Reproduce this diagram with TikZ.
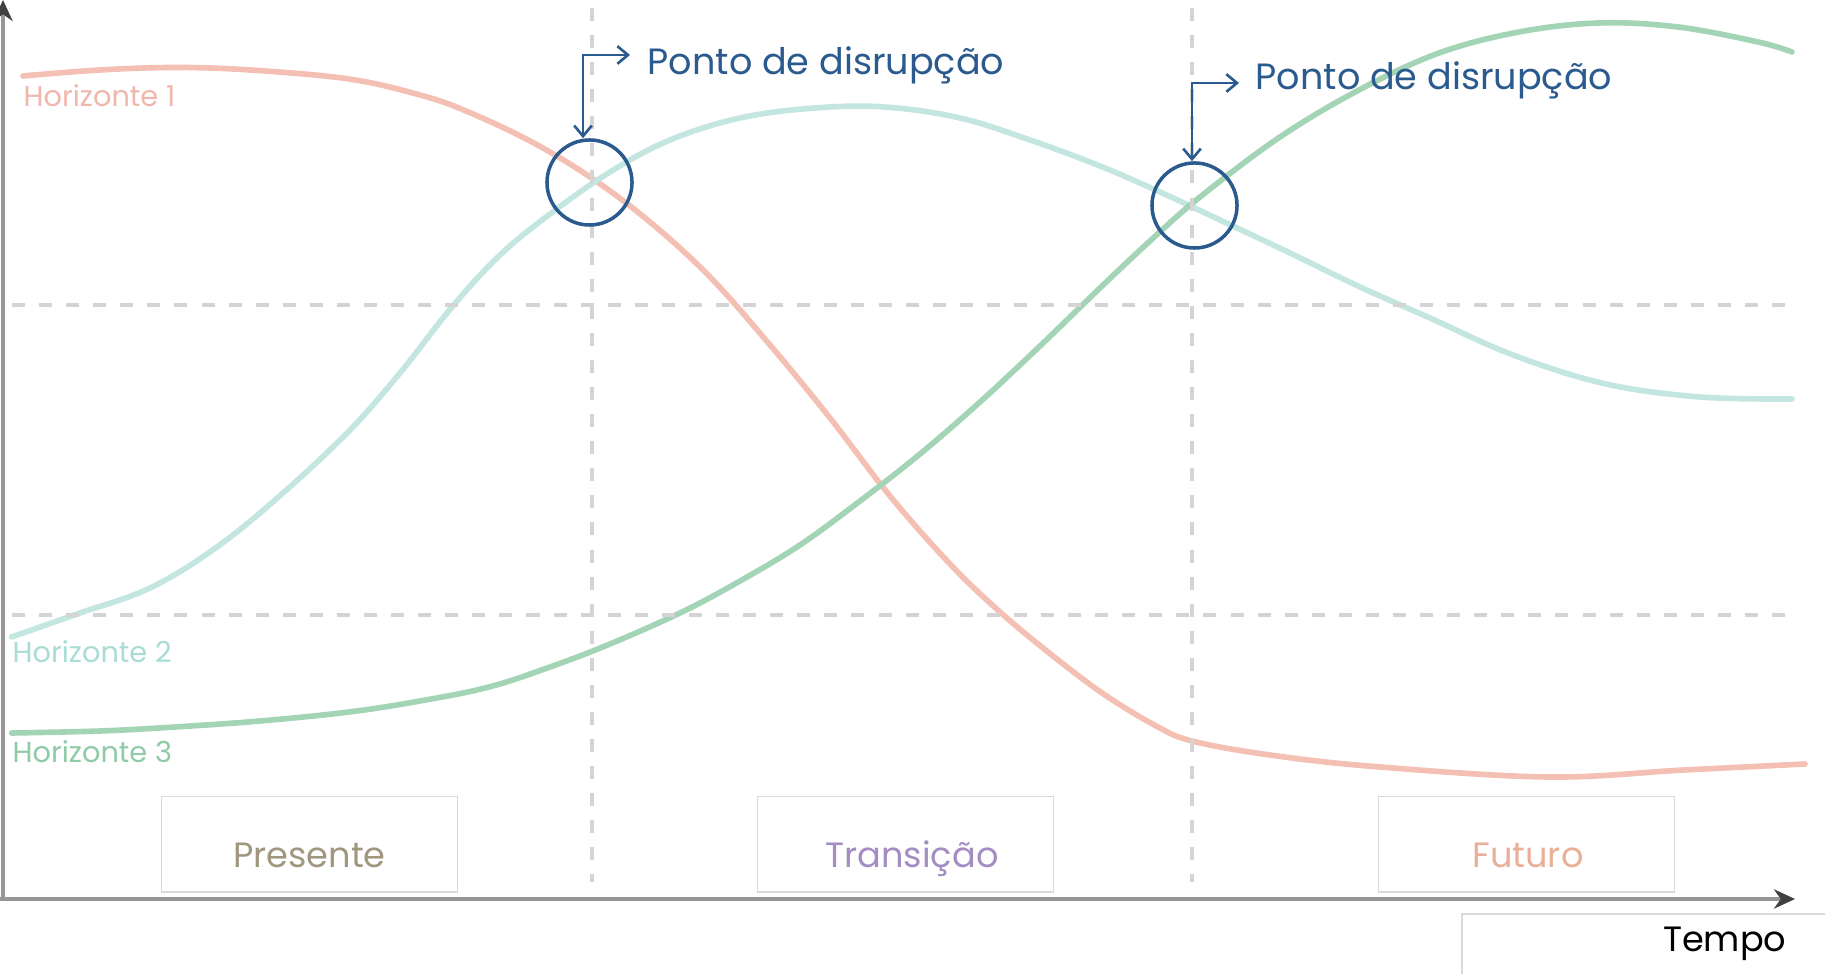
\documentclass[tikz,border=0pt]{standalone}
\usepackage{fontspec}
\setmainfont{Poppins}
\usetikzlibrary{arrows.meta}
\definecolor{hred}{HTML}{F4C0B4}
\definecolor{hteal}{HTML}{C3E6E1}
\definecolor{hgreen}{HTML}{A3D4B6}
\definecolor{lred}{HTML}{F0B8AC}
\definecolor{lteal}{HTML}{A9DCD5}
\definecolor{lgreen}{HTML}{8ECBA6}
\definecolor{dgray}{HTML}{D4D4D4}
\definecolor{axisgray}{HTML}{969696}
\definecolor{tipgray}{HTML}{404040}
\definecolor{dblue}{HTML}{2B5B8E}
\definecolor{boxgray}{HTML}{DADADA}
\definecolor{prescol}{HTML}{A0977F}
\definecolor{transcol}{HTML}{A38DC2}
\definecolor{futcol}{HTML}{E9AF98}
\tikzset{
  curve/.style={line width=1.6pt, line cap=round},
  grid/.style={dgray, line width=1.1pt, dash pattern=on 3.7pt off 4pt},
  axis/.style={axisgray, line width=0.9pt, -{Stealth[length=6pt,width=5.5pt,color=tipgray]}},
  disc/.style={circle, draw=dblue, line width=1pt, minimum size=0.85cm, inner sep=0pt},
  pointer/.style={dblue, line width=0.75pt, {Straight Barb[length=3pt,width=5pt]}-{Straight Barb[length=3pt,width=5pt]}},
  ptext/.style={anchor=base west, inner sep=0pt, text=dblue, font=\fontsize{10.4}{12}\selectfont},
  hlabel/.style={anchor=base west, inner sep=0pt, font=\fontsize{8.2}{10}\selectfont},
  phasebox/.style={draw=boxgray, line width=0.3pt, minimum width=2.95cm, minimum height=0.95cm, inner sep=0pt},
  phasetext/.style={anchor=base, inner sep=0pt, font=\fontsize{10}{12}\selectfont}
}
\begin{document}
\begin{tikzpicture}[x=0.01cm,y=-0.01cm]
\useasboundingbox (0,0) rectangle (1825,974);
\fill[white] (0,0) rectangle (1825,974);

% curves
\draw[curve, hred] plot[smooth, tension=0.6] coordinates {(23,76) (100,70) (175,67.5) (250,70) (349,79) (420,95) (466,111) (530,141) (590,177) (650,222) (710,277) (770,345) (830,418) (890,496) (950,564) (1000,612) (1053,656) (1105,695) (1158,727) (1192,741) (1263,754) (1368,766) (1547,777) (1684,770) (1805,764)};
\draw[curve, hteal] plot[smooth, tension=0.6] coordinates {(11.6,637) (80,613) (150,588) (217,547) (283,493) (350,430) (400,373) (452,307) (500,255) (550,214) (610,172) (670,140) (740,118) (815,108) (885,107) (960,118) (1030,140) (1100,166) (1160,192) (1220,220) (1290,253) (1360,287) (1430,318) (1513,355) (1606,384) (1700,397) (1792,399)};
\draw[curve, hgreen] plot[smooth, tension=0.6] coordinates {(11.6,733) (100,731) (175,727) (260,721) (349,712) (420,701) (489,687) (550,667) (610,644) (682,612) (740,581) (800,545) (860,501) (920,454) (980,402) (1040,346) (1100,288) (1150,241) (1200,197) (1280,137) (1359,90) (1439,53) (1519,32) (1599,23) (1678,27) (1758,42) (1792,52)};

% grid
\draw[grid] (12,305) -- (1795,305);
\draw[grid] (12,615) -- (1795,615);
\draw[grid] (592,8) -- (592,882);
\draw[grid] (1192,8) -- (1192,882);

% axes
\draw[axis] (0,899) -- (1795,899);
\draw[axis] (3,899) -- (3,0);

% labels
\node[hlabel, text=lred] (h1) at (23,107) {Horizonte 1};
\node[hlabel, text=lteal] (h2) at (12,663) {Horizonte 2};
\node[hlabel, text=lgreen] (h3) at (12,763) {Horizonte 3};

% disruption points
\node[disc] (c1) at (589.5,182.5) {};
\node[disc] (c2) at (1194.5,205.5) {};
\node[ptext] (t1) at (647,75) {Ponto de disrupção};
\node[ptext] (t2) at (1255,90) {Ponto de disrupção};
\coordinate (k1) at (583,55);
\coordinate (e1) at (630,55);
\coordinate (k2) at (1192,83);
\coordinate (e2) at (1239,83);
\draw[pointer] (k1 |- c1.north) -- (k1) -- (e1);
\draw[pointer] (k2 |- c2.north) -- (k2) -- (e2);

% phases
\node[phasebox] (pb) at (309.5,844.5) {};
\node[phasetext, text=prescol] (pt) at (309.5,867) {Presente};
\node[phasebox] (tb) at (905.5,844.5) {};
\node[phasetext, text=transcol] (tt) at (912,867) {Transição};
\node[phasebox] (fb) at (1526.5,844.5) {};
\node[phasetext, text=futcol] (ft) at (1528,867) {Futuro};

% tempo
\draw[boxgray, line width=0.4pt] (1462,974) -- (1462,914) -- (1825,914);
\node[anchor=base east, inner sep=0pt, font=\fontsize{10}{12}\selectfont] (tempo) at (1787,952) {Tempo};
\end{tikzpicture}
\end{document}
